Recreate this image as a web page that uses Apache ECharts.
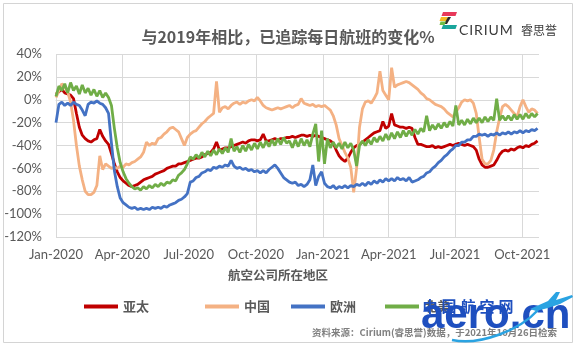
<!DOCTYPE html>
<html>
<head>
<meta charset="utf-8">
<script src="https://cdn.jsdelivr.net/npm/echarts@6/dist/echarts.min.js"></script>
<style>
  html, body { margin: 0; padding: 0; background: #ffffff; }
  #chart { width: 576px; height: 347px; }
</style>
</head>
<body>
<div id="chart"></div>
<script>
// Daily tracked flights vs. 2019, by airline home region (one sample every 4 days)
const seriesNames = ['亚太', '中国', '欧洲', '北美'];
const seriesColors = ['#C00000', '#F4B183', '#4472C4', '#70AD47'];
const firstDay = '2020-01-01';
const stepDays = 4;
const axisEnd = '2021-10-24';

const tickDates = ['2020-01-01', '2020-04-01', '2020-07-01', '2020-10-01',
                   '2021-01-01', '2021-04-01', '2021-07-01', '2021-10-01'];
const tickLabels = ['Jan-2020', 'Apr-2020', 'Jul-2020', 'Oct-2020',
                    'Jan-2021', 'Apr-2021', 'Jul-2021', 'Oct-2021'];

const asiaPacific = [
  5, 7, 9, 6, 5, 4, 1, -12, -24, -31,
  -34, -36, -37, -35, -34, -26, -32, -36, -39, -47,
  -56, -63, -68, -71, -73, -75, -76, -75, -74, -72,
  -70, -69, -68, -67, -65, -64, -63, -62, -60, -59,
  -58, -58, -56, -56, -55, -54, -53, -52, -51, -51,
  -50, -48, -47, -46, -43, -37, -44, -43, -42, -42,
  -41, -40, -39, -38, -37, -38, -36, -35, -35, -36,
  -35, -30, -36, -36, -35, -34, -35, -34, -34, -33,
  -33, -32, -33, -32, -31, -31, -32, -31, -32, -31,
  -32, -33, -34, -35, -36, -38, -44, -49, -52, -54,
  -51, -46, -42, -40, -39, -37, -35, -33, -31, -29,
  -28, -27, -19, -25, -23, -12, -22, -23, -24, -24,
  -25, -24, -25, -33, -39, -39, -40, -41, -41, -40,
  -42, -41, -42, -41, -40, -39, -40, -39, -38, -39,
  -40, -39, -40, -41, -44, -52, -57, -59, -59, -58,
  -57, -53, -48, -45, -44, -45, -43, -44, -42, -41,
  -42, -40, -41, -39, -38, -36
];

const china = [
  2, 8, 14, 11, 7, -2, -18, -40, -58, -70,
  -80, -83, -83, -81, -75, -49, -61, -56, -58, -60,
  -59, -60, -58, -59, -56, -57, -55, -54, -52, -50,
  -46, -37, -40, -38, -39, -34, -33, -30, -28, -25,
  -24, -26, -28, -34, -40, -33, -30, -28, -27, -24,
  -21, -19, -16, -14, -12, 16, -11, -7, -6, -8,
  -5, -3, -2, -4, -2, -3, -1, 0, -1, 2,
  -1, -5, -7, -8, -9, -8, -7, -8, -7, -6,
  -5, -7, -5, -4, 1, -3, -4, -5, -4, -6,
  -5, -6, -5, -7, -9, -14, -22, -34, -40, -46,
  -51, -59, -81, -60, -24, -8, -2, -1, -3, 1,
  6, 25, 8, 4, 0, 28, 11, 13, 14, 15,
  16, 15, 13, 11, 9, 6, 4, 1, 0, -2,
  -4, -5, -6, -8, -11, -13, -15, -11, -7, -2,
  0, -1, 0, -3, -12, -33, -52, -56, -56, -53,
  -44, -28, -16, -6, -4, -6, -9, -12, -15, -6,
  0, -6, -11, -8, -9, -12
];

const europe = [
  -20, -4, -2, -5, -3, -5, -2, -4, -5, -9,
  -14, -4, -2, -3, -1, -3, -4, -7, -12, -38,
  -62, -76, -86, -90, -92, -94, -95, -94, -96, -95,
  -96, -95, -96, -94, -95, -94, -95, -93, -94, -92,
  -91, -90, -88, -87, -85, -82, -72, -71, -68, -67,
  -64, -63, -61, -62, -59, -60, -58, -59, -57, -58,
  -53, -58, -60, -59, -61, -60, -62, -61, -63, -62,
  -64, -62, -64, -61, -59, -57, -60, -64, -68, -70,
  -72, -73, -72, -75, -74, -76, -74, -70, -57, -75,
  -67, -63, -73, -76, -77, -75, -78, -76, -77, -75,
  -77, -75, -76, -74, -75, -73, -75, -72, -74, -71,
  -73, -70, -72, -69, -71, -69, -71, -68, -70, -69,
  -71, -68, -72, -71, -70, -68, -67, -64, -63, -60,
  -58, -55, -53, -50, -48, -45, -43, -40, -40, -37,
  -37, -35, -35, -32, -32, -30, -31, -30, -32, -30,
  -31, -29, -31, -29, -30, -28, -30, -28, -29, -27,
  -29, -27, -28, -26, -27, -25
];

const northAmerica = [
  3, 12, 8, 14, 6, 15, 8, 12, 5, 13,
  6, 10, 4, 9, 3, 8, 2, 6, 2, -5,
  -25, -42, -55, -63, -69, -73, -76, -78, -77, -79,
  -76, -78, -75, -77, -74, -76, -73, -75, -72, -73,
  -70, -71, -66, -64, -61, -56, -50, -52, -48, -51,
  -46, -50, -45, -49, -44, -48, -43, -47, -42, -46,
  -34, -45, -41, -46, -40, -45, -39, -44, -38, -43,
  -37, -42, -36, -41, -35, -40, -34, -39, -33, -38,
  -36, -42, -35, -41, -34, -40, -35, -41, -30, -21,
  -54, -27, -56, -34, -42, -37, -42, -38, -43, -37,
  -42, -38, -44, -58, -40, -36, -40, -35, -39, -33,
  -37, -32, -36, -30, -35, -29, -34, -28, -33, -27,
  -32, -27, -31, -26, -30, -25, -28, -14, -27, -22,
  -26, -21, -25, -20, -24, -19, -23, -5, -22, -18,
  -22, -17, -21, -16, -20, -16, -20, -15, -19, -15,
  -18, 1, -18, -14, -18, -14, -18, -13, -17, -13,
  -17, -12, -16, -12, -15, -12
];

const seriesValues = [asiaPacific, china, europe, northAmerica];

// x axis runs in days since the first sampled day
const DAY = 86400000;
function toTime(s) {
  const [y, m, d] = s.split('-').map(Number);
  return Date.UTC(y, m - 1, d);
}
function dayOffset(s) { return Math.round((toTime(s) - toTime(firstDay)) / DAY); }
const tickDays = tickDates.map(dayOffset);

function pairs(values) {
  return values.map((v, i) => [i * stepDays, v]);
}

const labelColor = '#595959';
const gridColor = '#d9d9d9';
const latin = 'Lato, "Noto Sans CJK SC", sans-serif';
const cjk = '"Noto Sans CJK SC", sans-serif';

const legendLeft = [79, 200, 286, 380];

const chart = echarts.init(document.getElementById('chart'), null, { renderer: 'canvas' });

const logoParts = [
  { pts: [[443, 12], [457, 12], [455.5, 16], [441.5, 16]], c: '#E8385A' },
  { pts: [[441, 17], [448, 17], [446.5, 21], [439.5, 21]], c: '#F5B923' },
  { pts: [[448, 17], [451, 17], [447, 24], [444, 24]], c: '#2b2b2b' },
  { pts: [[440.5, 21.5], [446, 21.5], [444.5, 25], [439.5, 25]], c: '#6DBE45' },
  { pts: [[443, 25], [457, 25], [455.5, 29], [441.5, 29]], c: '#19A59B' }
];

const watermarkChars = '中国航空网'.split('');

const graphics = [
  { type: 'rect', silent: true, z: 0,
    shape: { x: 3.5, y: 3.5, width: 569, height: 339 },
    style: { fill: 'none', stroke: '#d4d4d4', lineWidth: 1 } },
  { type: 'text', x: 288, y: 37, z: 10,
    style: { text: '与2019年相比，已追踪每日航班的变化%', font: 'bold 16px ' + cjk,
             fill: labelColor, textAlign: 'center', textVerticalAlign: 'middle' } },
  { type: 'text', x: 278, y: 275, z: 10,
    style: { text: '航空公司所在地区', font: 'bold 12.5px ' + cjk,
             fill: labelColor, textAlign: 'center', textVerticalAlign: 'middle' } },
  { type: 'text', x: 459, y: 30, z: 10,
    style: { text: 'C\u200AI\u200AR\u200AI\u200AU\u200AM', font: '14px ' + latin,
             fill: '#3a3a3a', textAlign: 'left', textVerticalAlign: 'middle' } },
  { type: 'text', x: 521, y: 30, z: 10,
    style: { text: '睿思誉', font: '12px ' + cjk, fill: '#3a3a3a',
             textAlign: 'left', textVerticalAlign: 'middle' } },
  { type: 'text', x: 557, y: 332, z: 10,
    style: { text: '资料来源：Cirium(睿思誉)数据，于2021年10月26日检索', font: 'bold 9.5px ' + cjk,
             fill: '#7f7f7f', textAlign: 'right', textVerticalAlign: 'middle' } }
];

logoParts.forEach(p => graphics.push({
  type: 'polygon', silent: true, z: 10,
  shape: { points: p.pts }, style: { fill: p.c }
}));

// site watermark
watermarkChars.forEach((ch, i) => graphics.push({
  type: 'text', x: 430 + i * 19, y: 306.5, z: 20,
  style: { text: ch, font: 'bold 15px ' + cjk, fill: '#1E4FBF',
           textAlign: 'center', textVerticalAlign: 'middle' }
}));
graphics.push(
  { type: 'text', x: 421, y: 337, z: 20,
    style: { text: 'aero.cn', font: 'bold 42px "Liberation Sans", Arial, sans-serif',
             fill: '#1E4FBF', textAlign: 'left', textVerticalAlign: 'bottom' } },
  { type: 'bezierCurve', silent: true, z: 21,
    shape: { x1: 452, y1: 340, x2: 538, y2: 310, cpx1: 480, cpy1: 346, cpx2: 520, cpy2: 330 },
    style: { stroke: '#2AA3E2', lineWidth: 2.5, fill: 'none' } },
  { type: 'polygon', silent: true, z: 21,
    shape: { points: [[530, 309], [548, 301], [556, 292], [560, 292], [556, 300], [572, 295],
                      [573, 297], [560, 304], [548, 308], [536, 311]] },
    style: { fill: '#2AA3E2' } }
);

chart.setOption({
  animation: false,
  backgroundColor: '#ffffff',
  grid: { left: 56, right: 37, top: 54, bottom: 110 },
  legend: seriesNames.map((n, i) => ({
    data: [n], left: legendLeft[i], top: 295,
    icon: 'rect', itemWidth: 34, itemHeight: 4, itemGap: 0,
    textStyle: { fontFamily: cjk, fontSize: 13, fontWeight: 'bold', color: labelColor },
    selectedMode: false
  })),
  xAxis: {
    type: 'value',
    min: 0,
    max: dayOffset(axisEnd),
    axisLine: { show: true, lineStyle: { color: gridColor, width: 1 } },
    axisTick: { show: false, customValues: tickDays },
    axisLabel: {
      customValues: tickDays,
      margin: 11,
      fontFamily: latin, fontSize: 13, color: labelColor,
      formatter: function (v) {
        const idx = tickDays.indexOf(Math.round(v));
        return idx >= 0 ? tickLabels[idx] : '';
      }
    },
    splitLine: { show: true, lineStyle: { color: gridColor, width: 1 } }
  },
  yAxis: {
    type: 'value',
    min: -120, max: 40, interval: 20,
    axisLine: { show: false },
    axisTick: { show: false },
    axisLabel: { formatter: '{value}%', margin: 14, fontFamily: latin, fontSize: 13, color: labelColor },
    splitLine: { show: true, lineStyle: { color: gridColor, width: 1 } }
  },
  series: seriesNames.map((n, i) => ({
    name: n,
    type: 'line',
    data: pairs(seriesValues[i]),
    showSymbol: false,
    symbol: 'none',
    lineStyle: { color: seriesColors[i], width: 2.8 },
    itemStyle: { color: seriesColors[i] },
    z: 2 + i
  })),
  graphic: graphics
});
</script>
</body>
</html>
